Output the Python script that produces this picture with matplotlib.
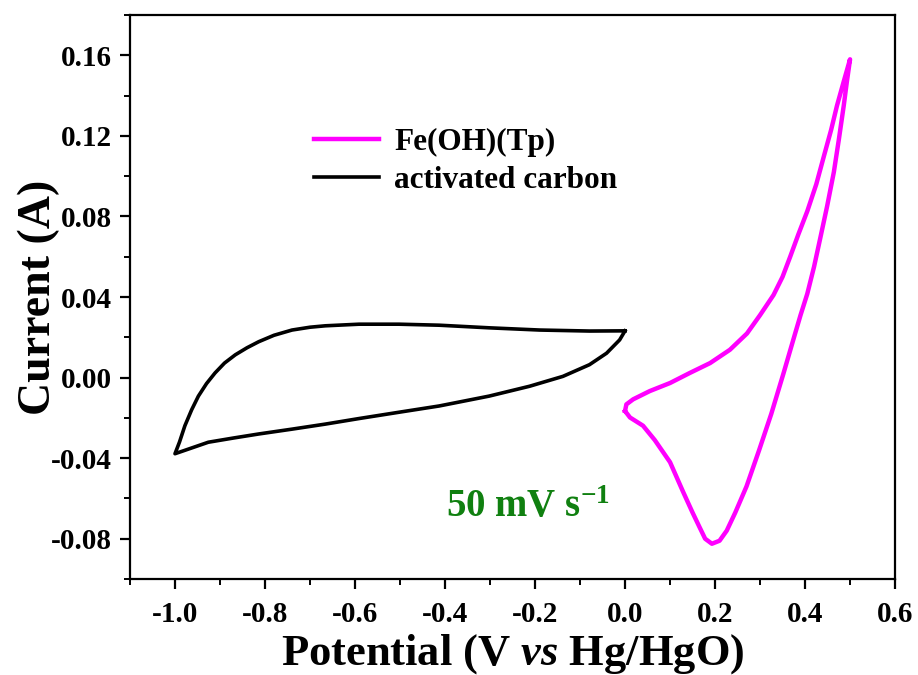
import matplotlib
matplotlib.use("Agg")
import matplotlib.pyplot as plt
from matplotlib.ticker import MultipleLocator

plt.rcParams['font.family'] = ['Liberation Serif', 'DejaVu Serif']
plt.rcParams['mathtext.fontset'] = 'custom'
plt.rcParams['mathtext.rm'] = 'Liberation Serif:bold'
plt.rcParams['mathtext.bf'] = 'Liberation Serif:bold'
plt.rcParams['mathtext.it'] = 'Liberation Serif:bold:italic'

# Activated carbon CV loop (potential V, current A)
ac_potential = [0.000, -0.012, -0.041, -0.079, -0.138, -0.212, -0.302, -0.413, -0.502,
                -0.590, -0.666, -0.740, -0.814, -0.870, -0.926, -1.000,
                -0.990, -0.978, -0.963, -0.948, -0.930, -0.911, -0.890, -0.866,
                -0.840, -0.814, -0.780, -0.740, -0.700, -0.666, -0.591, -0.502,
                -0.413, -0.302, -0.190, -0.079, 0.000]
ac_current = [0.0232, 0.0187, 0.0121, 0.0064, 0.0006, -0.0043, -0.0092, -0.0141, -0.0172,
              -0.0203, -0.0231, -0.0256, -0.0280, -0.0300, -0.0321, -0.0378,
              -0.0320, -0.0239, -0.0160, -0.0092, -0.0030, 0.0023, 0.0072, 0.0113,
              0.0148, 0.0178, 0.0210, 0.0236, 0.0250, 0.0257, 0.0265, 0.0265,
              0.0260, 0.0247, 0.0236, 0.0231, 0.0232]

# Fe(OH)(Tp) CV loop
fe_potential = [0.000, 0.003, 0.018, 0.055, 0.100, 0.144, 0.189, 0.233, 0.271, 0.300,
                0.330, 0.350, 0.367, 0.385, 0.405, 0.425, 0.442, 0.458, 0.471, 0.486,
                0.500, 0.493, 0.486, 0.475, 0.464, 0.449, 0.434, 0.420, 0.405, 0.390,
                0.378, 0.352, 0.325, 0.298, 0.270, 0.245, 0.226, 0.210, 0.193, 0.178,
                0.165, 0.150, 0.129, 0.100, 0.066, 0.040, 0.011, 0.000]
fe_current = [-0.0166, -0.0133, -0.0108, -0.0067, -0.0027, 0.0023, 0.0072, 0.0138, 0.0219, 0.0310,
              0.0410, 0.0500, 0.0600, 0.0710, 0.0826, 0.0960, 0.1100, 0.1230, 0.1350, 0.1470,
              0.1580, 0.1470, 0.1350, 0.1180, 0.1020, 0.0850, 0.0694, 0.0550, 0.0416, 0.0310,
              0.0219, 0.0020, -0.0180, -0.0360, -0.0540, -0.0670, -0.0760, -0.0810, -0.0825, -0.0800,
              -0.0740, -0.0670, -0.0567, -0.0420, -0.0310, -0.0239, -0.0198, -0.0166]

x_ticks = [-1.0, -0.8, -0.6, -0.4, -0.2, 0.0, 0.2, 0.4, 0.6]
y_ticks = [-0.08, -0.04, 0.00, 0.04, 0.08, 0.12, 0.16]

fig = plt.figure(figsize=(9.18, 6.75), dpi=100)
ax = fig.add_axes([0.1416, 0.1422, 0.8334, 0.8356])

ax.plot(fe_potential, fe_current, color='#ff00ff', lw=3.2, label='Fe(OH)(Tp)', solid_joinstyle='round')
ax.plot(ac_potential, ac_current, color='black', lw=2.6, label='activated carbon', solid_joinstyle='round')

ax.set_xlim(-1.1, 0.6)
ax.set_ylim(-0.1, 0.18)
ax.set_xticks(x_ticks)
ax.set_yticks(y_ticks)
ax.set_xticklabels([f"{v:.1f}" for v in x_ticks])
ax.set_yticklabels([f"{v:.2f}" for v in y_ticks])
ax.xaxis.set_minor_locator(MultipleLocator(0.1))
ax.yaxis.set_minor_locator(MultipleLocator(0.02))

for sp in ax.spines.values():
    sp.set_linewidth(1.6)
ax.tick_params(which='major', direction='out', length=7, width=1.6, labelsize=21)
ax.tick_params(axis='x', which='major', pad=9)
ax.tick_params(axis='y', which='major', pad=6)
ax.tick_params(which='minor', direction='out', length=4, width=1.4)
for lab in ax.get_xticklabels() + ax.get_yticklabels():
    lab.set_fontweight('bold')

ax.set_xlabel('Potential (V $\\mathit{vs}$ Hg/HgO)', fontsize=32, fontweight='bold', labelpad=3)
ax.set_ylabel('Current (A)', fontsize=33, fontweight='bold')
ax.yaxis.set_label_coords(-0.092, 0.5)

leg = ax.legend(loc='upper left', bbox_to_anchor=(0.24, 0.80), frameon=False,
                prop={'family': 'Liberation Serif', 'weight': 'bold', 'size': 22.5},
                handlelength=2.08, handletextpad=0.5, labelspacing=0.28,
                borderpad=0, borderaxespad=0)

ax.text(-0.397, -0.069, '50 mV s$^{\\mathbf{-1}}$', color='#108010', fontsize=28,
        fontweight='bold', ha='left', va='baseline')

fig.savefig('out.png', dpi=100)
